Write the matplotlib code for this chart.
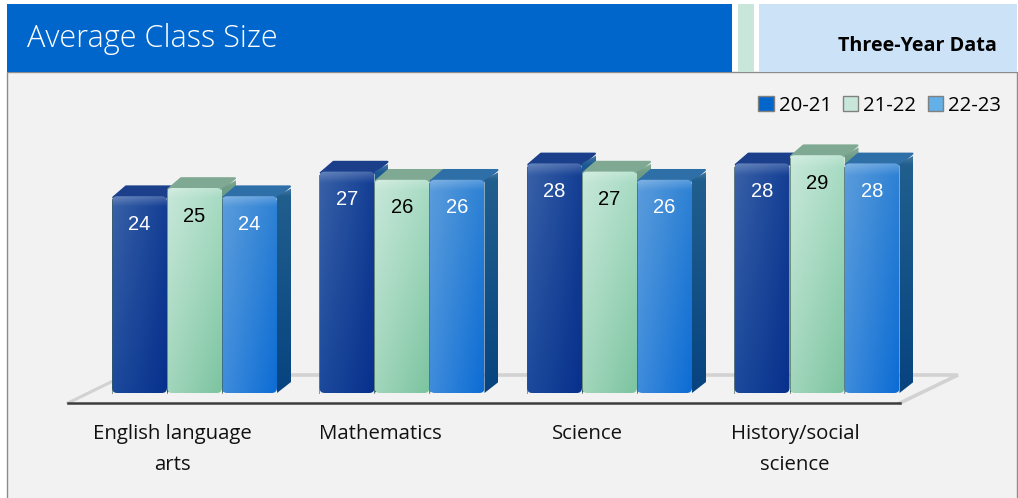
#!/usr/bin/env python3
"""Average class size, three-year grouped bars with a fake 3D look."""

import numpy as np
import matplotlib
matplotlib.use('Agg')
import matplotlib.pyplot as plt
from matplotlib.colors import to_rgb
from matplotlib.patches import Rectangle, Polygon, FancyBboxPatch

# %% data
subjects = ['English language\narts', 'Mathematics', 'Science', 'History/social\nscience']
years = ['20-21', '21-22', '22-23']
y2021 = [24, 27, 28, 28]
y2122 = [25, 26, 27, 29]
y2223 = [24, 26, 26, 28]

# %% style, one dict per series
# front: top-left, top-right, bottom-left, bottom-right
styles = [
    dict(front=('#3a62a8', '#143f94', '#1c4a9c', '#07308c'), top='#1b3f8a',
         side=('#1d5a92', '#0a4482'), txt='white', key='#0066cc'),
    dict(front=('#c8e8da', '#a9dcc4', '#a2d6bc', '#7cc4a0'), top='#80a994',
         side=('#6f9d86', '#5f9078'), txt='black', key='#c9e6da'),
    dict(front=('#5c9ddc', '#2f82d4', '#3f8cdc', '#0c6cd4'), top='#2f6fa8',
         side=('#22608f', '#07437f'), txt='white', key='#62b0e6'),
]

W, H = 1018, 498
x0_px, group_px = 194.5, 207.5   # first group centre, px between groups
base_px, unit_px = 393.0, 8.2    # y=0 and px per student
bar_px, dx_px, dy_px = 55.0, 14.0, 11.0

fig = plt.figure(figsize=(W / 100, H / 100), dpi=100, facecolor='w')

# %% header and panel, in pixels
bg = fig.add_axes([0, 0, 1, 1], zorder=0)
bg.set_xlim(0, W)
bg.set_ylim(H, 0)
bg.axis('off')
bg.add_patch(Rectangle((7, 72), 1010, 430, fc='#f2f2f2', ec='#8c8c8c', lw=1))
bg.add_patch(Rectangle((7, 4), 725, 68, fc='#0066cc', ec='none'))
bg.add_patch(Rectangle((738, 4), 16, 68, fc='#c9e6da', ec='none'))
bg.add_patch(Rectangle((759, 4), 258, 68, fc='#cce2f7', ec='none'))
bg.text(27, 39, 'Average Class Size', color='w', fontsize=22.1, va='center',
        family='Open Sans', fontweight='light')
bg.text(997, 46, 'Three-Year Data', color='k', fontsize=14.2, va='center', ha='right',
        family='Open Sans', fontweight='bold')

# %% data axes spanning the figure
ax = fig.add_axes([0, 0, 1, 1], zorder=1)
ax.patch.set_alpha(0)
ax.axis('off')
ax.set_xlim((0 - x0_px) / group_px, (W - x0_px) / group_px)
ax.set_ylim((base_px - H) / unit_px, base_px / unit_px)
bw = bar_px / group_px
ddx = dx_px / group_px
ddy = dy_px / unit_px


def xp(px):
    return (px - x0_px) / group_px


def yp(py):
    return (base_px - py) / unit_px


# floor
floor_left, floor_right, floor_back = xp(68), xp(900), xp(958)
y_front, y_back = yp(403), yp(375)
ax.plot([floor_left, xp(115)], [y_front, yp(380)], color='#d2d2d2', lw=2.2, zorder=1)
ax.plot([xp(280), floor_back, floor_right], [y_back, y_back, y_front],
        color='#d2d2d2', lw=2.6, zorder=1, solid_joinstyle='miter')
ax.plot([floor_left, floor_right], [y_front, y_front], color='#3c3c3c', lw=1.8, zorder=2)


def gradient(corners, n=64):
    tl, tr, bl, br = [np.array(to_rgb(c)) for c in corners]
    u = np.linspace(0, 1, n)[None, :, None]
    v = np.linspace(0, 1, n * 2)[:, None, None]
    img = (1 - v) * ((1 - u) * tl + u * tr) + v * ((1 - u) * bl + u * br)
    # soft bevel highlight along the top
    fade = np.clip(1 - np.linspace(0, 1, n * 2) / 0.05, 0, 1)[:, None, None]
    img = img * (1 - 0.22 * fade) + 0.22 * fade
    return np.clip(img, 0, 1)


# %% bars, left to right so each one overlaps its neighbour's side
z = 3
for s_i, (vals, st) in enumerate(zip([y2021, y2122, y2223], styles)):
    for g_i, val in enumerate(vals):
        left = g_i - 1.5 * bw + s_i * bw
        right = left + bw
        ax.add_patch(Polygon([(left + 0.006, val - 0.15), (left + ddx, val + ddy - 0.15),
                              (right + ddx - 0.005, val + ddy - 0.15), (right, val - 0.15)],
                             fc=st['top'], ec=st['top'], lw=1.5, joinstyle='round', zorder=z))
        side = ax.imshow(gradient((st['side'][0], st['side'][0], st['side'][1], st['side'][1])),
                         extent=(right, right + ddx, 0, val + ddy), aspect='auto', zorder=z)
        side.set_clip_path(Polygon([(right, 0), (right + ddx, ddy), (right + ddx, val + ddy - 0.4),
                                    (right, val)], transform=ax.transData))
        front = ax.imshow(gradient(st['front']), extent=(left, right, 0, val),
                          aspect='auto', zorder=z + 0.1)
        clip = FancyBboxPatch((left, 0), bw, val, boxstyle='round,pad=0,rounding_size=0.025',
                              mutation_aspect=group_px / unit_px, transform=ax.transData)
        front.set_clip_path(clip)
        ax.plot([left, left], [0, val - 0.4], color='#3c5a50', lw=0.7, alpha=0.6, zorder=z + 0.2)
        ax.text(left + bw / 2, val - 28 / unit_px, str(val), color=st['txt'], ha='center',
                va='center', fontsize=14.5, family='Liberation Sans', zorder=z + 0.3)
    z += 1

ax.set_xlim((0 - x0_px) / group_px, (W - x0_px) / group_px)
ax.set_ylim((base_px - H) / unit_px, base_px / unit_px)

# %% category labels
for g_i, name in enumerate(subjects):
    ax.text(g_i - 22 / group_px, yp(424), name, ha='center', va='top', fontsize=14.7,
            family='Open Sans', color='#111111', linespacing=1.75)

# %% legend
handles = [Rectangle((0, 0), 1, 1, fc=st['key'], ec='#808080', lw=1) for st in styles]
leg = fig.legend(handles, years, ncols=3, loc='upper right', bbox_to_anchor=(1001 / W, 1 - 96 / H),
                 frameon=False, handlelength=0.75, handleheight=0.75,
                 handletextpad=0.25, columnspacing=0.55, borderpad=0, borderaxespad=0,
                 prop=dict(family='Open Sans', size=14.7))
fig.savefig('out.png', dpi=100)
